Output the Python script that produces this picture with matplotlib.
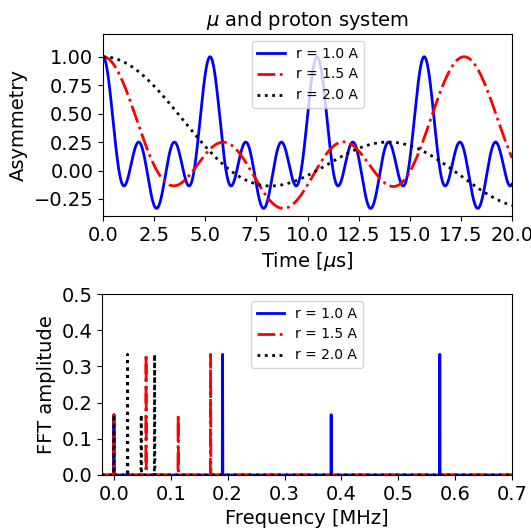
import numpy as np
import matplotlib
matplotlib.use("Agg")
import matplotlib.pyplot as plt

# muon-proton distances (Angstrom) and the line
radii = [1.0, 1.5, 2.0]
labels = ["r = 1.0 A", "r = 1.5 A", "r = 2.0 A"]
freqs = [
    [0.0, 0.191, 0.382, 0.573],     # r = 1.0 A
    [0.0, 0.0566, 0.113, 0.170],    # r = 1.5 A
    [0.0, 0.0239, 0.0478, 0.0717],  # r = 2.0 A
]
amps = [1/6, 2/6, 1/6, 2/6]
colors = ["b", "r", "k"]
styles = ["-", "-.", ":"]

t = np.linspace(0, 20, 2001)          # us
f = np.arange(-0.05, 1.0, 0.0005)     # MHz

fig = plt.figure(figsize=(5.31, 5.28), dpi=100)
ax1 = fig.add_axes([103/531, 1-216/528, 409/531, 182/528])
ax2 = fig.add_axes([102/531, 1-475/528, 410/531, 181/528])

for k in range(len(radii)):
    # asymmetry = sum of the cosine components
    P = np.zeros_like(t)
    for nu, a in zip(freqs[k], amps):
        P += a*np.cos(2*np.pi*nu*t)
    ax1.plot(t, P, color=colors[k], ls=styles[k], lw=2, label=labels[k])

    spec = np.zeros_like(f)
    for nu, a in zip(freqs[k], amps):
        spec[np.argmin(np.abs(f - nu))] = a
    ax2.plot(f, spec, color=colors[k], ls=styles[k], lw=2, label=labels[k])

fs = 14
ax1.set_xlim(0, 20)
ax1.set_ylim(-0.4, 1.2)
ax1.set_xticks(np.arange(0, 20.1, 2.5))
ax1.set_yticks([-0.25, 0, 0.25, 0.5, 0.75, 1.0])
ax1.set_xlabel(r'Time [$\mu$s]', fontsize=fs)
ax1.set_ylabel('Asymmetry', fontsize=fs)
ax1.set_title(r'$\mu$ and proton system', fontsize=fs)
ax1.tick_params(labelsize=fs)
ax1.legend(loc='upper center', fontsize=10)

ax2.set_xlim(-0.021, 0.7)
ax2.set_ylim(0, 0.5)
ax2.set_xticks(np.arange(0, 0.71, 0.1))
ax2.set_yticks(np.arange(0, 0.51, 0.1))
ax2.set_xlabel('Frequency [MHz]', fontsize=fs)
ax2.set_ylabel('FFT amplitude', fontsize=fs)
ax2.tick_params(labelsize=fs)
ax2.legend(loc='upper center', fontsize=10)

fig.savefig("out.png", dpi=100)
